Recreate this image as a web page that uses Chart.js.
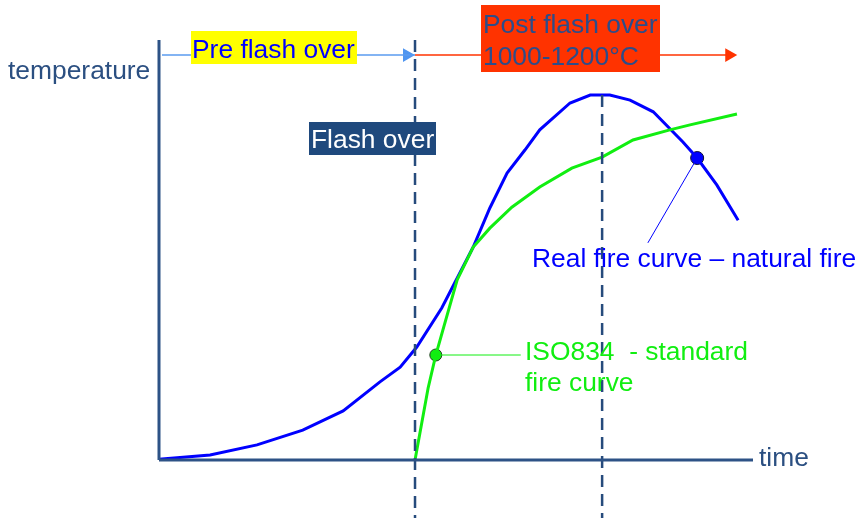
<!DOCTYPE html>
<html>
<head>
<meta charset="utf-8">
<script src="https://cdn.jsdelivr.net/npm/chart.js@4/dist/chart.umd.min.js"></script>
<style>
  html, body { margin: 0; padding: 0; background: #ffffff; }
  #wrap { width: 861px; height: 518px; }
</style>
</head>
<body>
<div id="wrap"><canvas id="c" width="861" height="518"></canvas></div>
<script>
// ---- Data (time 0-100, temperature 0-100, arbitrary units) ----
const realFireTime = [0, 8.6, 16.5, 24.2, 31.0, 37.2, 40.6, 43.4, 47.6, 52.9, 55.7, 58.6, 61.6, 64.1, 69.2, 72.6, 75.9, 79.3, 83.2, 88.2, 90.6, 93.9, 97.5];
const realFireTemp = [0.2, 1.2, 3.6, 7.1, 11.7, 18.6, 22.1, 26.9, 36.2, 50.7, 60.0, 68.3, 73.8, 78.6, 85.0, 86.9, 86.9, 85.7, 82.9, 75.7, 71.9, 65.5, 57.1];

const isoTime = [43.1, 45.3, 46.6, 47.8, 50.2, 52.9, 55.7, 59.4, 64.1, 69.5, 74.6, 79.8, 86.0, 89.4, 97.3];
const isoTemp = [0, 17.1, 25.0, 31.0, 42.9, 50.7, 55.2, 60.2, 65.0, 69.5, 72.1, 76.2, 78.6, 79.8, 82.4];

// marker points on the curves
const realMarker = [90.6, 71.9];
const isoMarker = [46.6, 25.0];
// ends of the leader lines from the markers to the labels
const realLeaderEnd = [82.3, 51.7];
const isoLeaderEnd = [60.9, 25.0];

// phase boundaries (time) and top phase-arrow level
const flashOverTime = 43.1;
const peakTime = 74.6;
const peakTemp = 86.9;
const phaseArrowLevel = 96.4;
const preArrowStart = 0.5;
const preArrowHead = 41.75;
const postArrowHead = 96.0;
const axisMin = 0, axisMax = 100, belowAxis = -13.8;

// label texts
const labelTexts = {
  yTitle: 'temperature',
  xTitle: 'time',
  pre: 'Pre flash over',
  flash: 'Flash over',
  post1: 'Post flash over',
  post2: '1000-1200°C',
  real: 'Real fire curve – natural fire',
  iso1: 'ISO834  - standard',
  iso2: 'fire curve'
};

const zip = (xs, ys) => xs.map((x, i) => ({ x: x, y: ys[i] }));

const AXIS_COLOR = '#2d5286';
const DASH_COLOR = '#264b7c';
const BLUE = '#0000ff';
const GREEN = '#11ee11';
const FONT = '26.4px "Liberation Sans", Arial, sans-serif';

const labelPlugin = {
  id: 'labels',
  afterDatasetsDraw(chart) {
    const ctx = chart.ctx;
    ctx.save();
    ctx.font = FONT;
    ctx.textBaseline = 'alphabetic';
    ctx.textAlign = 'left';
    const box = (x, y, w, h, c) => { ctx.fillStyle = c; ctx.fillRect(x, y, w, h); };
    const txt = (s, x, y, c) => { ctx.fillStyle = c; ctx.fillText(s, x, y); };

    txt(labelTexts.yTitle, 8, 79, '#2b4f81');
    txt(labelTexts.xTitle, 759, 466, '#2b4f81');

    box(191, 31, 166, 33, '#ffff00');
    txt(labelTexts.pre, 192, 58, BLUE);

    box(309, 122, 127, 33, '#1f497d');
    txt(labelTexts.flash, 311, 148, '#ffffff');

    box(481, 5, 179, 67, '#ff3300');
    txt(labelTexts.post1, 483, 33, '#2c4d8a');
    txt(labelTexts.post2, 483, 65, '#2c4d8a');

    txt(labelTexts.real, 532, 267, BLUE);
    txt(labelTexts.iso1, 525, 360, GREEN);
    txt(labelTexts.iso2, 525, 391, GREEN);
    ctx.restore();
  }
};

const lineDs = (data, color, width, extra) => Object.assign({
  data: data, showLine: true, borderColor: color, backgroundColor: color,
  borderWidth: width, pointRadius: 0, tension: 0, clip: false
}, extra || {});

new Chart(document.getElementById('c'), {
  type: 'scatter',
  data: {
    datasets: [
      // axes
      lineDs([{ x: axisMin, y: axisMin }, { x: axisMin, y: axisMax }], AXIS_COLOR, 3),
      lineDs([{ x: axisMin, y: axisMin }, { x: axisMax, y: axisMin }], AXIS_COLOR, 3),
      // dashed phase lines
      lineDs([{ x: flashOverTime, y: axisMax }, { x: flashOverTime, y: belowAxis }], DASH_COLOR, 2.5, { borderDash: [12, 7] }),
      lineDs([{ x: peakTime, y: peakTemp }, { x: peakTime, y: belowAxis }], DASH_COLOR, 2.5, { borderDash: [12, 7] }),
      // top phase arrows
      lineDs([{ x: preArrowStart, y: phaseArrowLevel }, { x: flashOverTime, y: phaseArrowLevel }], '#5a9bef', 1.5),
      lineDs([{ x: flashOverTime, y: phaseArrowLevel }, { x: postArrowHead, y: phaseArrowLevel }], '#ff3300', 1.5),
      { data: [{ x: preArrowHead, y: phaseArrowLevel }], showLine: false, pointStyle: 'triangle', pointRotation: 90,
        pointRadius: 8, backgroundColor: '#4f95f0', borderColor: '#4f95f0', borderWidth: 0, clip: false },
      { data: [{ x: postArrowHead, y: phaseArrowLevel }], showLine: false, pointStyle: 'triangle', pointRotation: 90,
        pointRadius: 8, backgroundColor: '#ff3300', borderColor: '#ff3300', borderWidth: 0, clip: false },
      // curves
      lineDs(zip(isoTime, isoTemp), GREEN, 3),
      lineDs(zip(realFireTime, realFireTemp), BLUE, 3),
      // leader lines
      lineDs([{ x: isoMarker[0], y: isoMarker[1] }, { x: isoLeaderEnd[0], y: isoLeaderEnd[1] }], GREEN, 1),
      lineDs([{ x: realMarker[0], y: realMarker[1] }, { x: realLeaderEnd[0], y: realLeaderEnd[1] }], BLUE, 1),
      // markers
      { data: [{ x: isoMarker[0], y: isoMarker[1] }], showLine: false, pointRadius: 6,
        backgroundColor: '#11ee11', borderColor: '#224422', borderWidth: 1, clip: false },
      { data: [{ x: realMarker[0], y: realMarker[1] }], showLine: false, pointRadius: 6.5,
        backgroundColor: '#0000ff', borderColor: '#111133', borderWidth: 1, clip: false }
    ]
  },
  options: {
    responsive: false,
    devicePixelRatio: 1,
    animation: false,
    layout: { padding: { left: 159, right: 108, top: 40, bottom: 58 } },
    scales: {
      x: { type: 'linear', min: axisMin, max: axisMax, display: false },
      y: { type: 'linear', min: axisMin, max: axisMax, display: false }
    },
    plugins: { legend: { display: false }, tooltip: { enabled: false } },
    events: []
  },
  plugins: [labelPlugin]
});
</script>
</body>
</html>
